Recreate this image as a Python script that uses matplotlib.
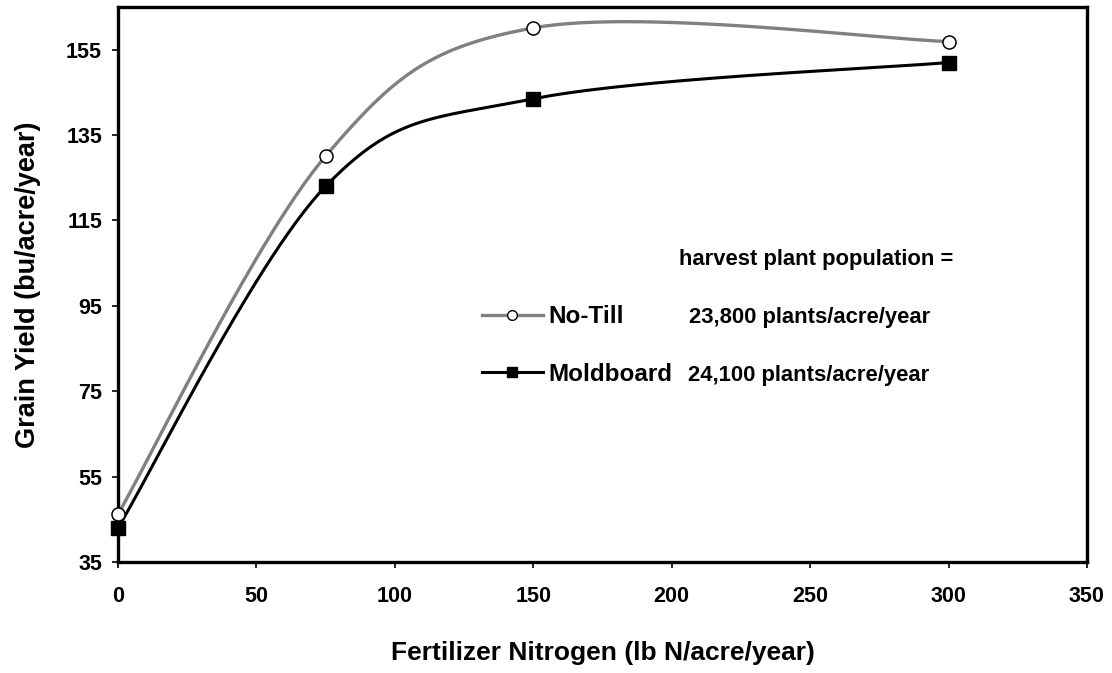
import numpy as np
import matplotlib
matplotlib.use("Agg")
import matplotlib.pyplot as plt

# datos
nitrogeno = [0, 75, 150, 300]
no_till = [46.2, 130.1, 160.1, 156.9]
moldboard = [43.0, 123.0, 143.5, 152.0]
x_ticks = [0, 50, 100, 150, 200, 250, 300, 350]
y_ticks = [35, 55, 75, 95, 115, 135, 155]

plt.rcParams['font.family'] = ['Liberation Sans', 'DejaVu Sans']
plt.rcParams['font.weight'] = 'bold'


# linea suavizada tipo Excel (Bezier con tangentes Catmull-Rom, factor 1/6)
def suavizar(x, y, n=60):
    p = np.column_stack([x, y]).astype(float)
    ext = np.vstack([p[0], p, p[-1]])
    pts = []
    for i in range(len(p) - 1):
        p0, p1 = ext[i + 1], ext[i + 2]
        c1 = p0 + (ext[i + 2] - ext[i]) / 6.0
        c2 = p1 - (ext[i + 3] - ext[i + 1]) / 6.0
        t = np.linspace(0, 1, n)[:, None]
        seg = ((1 - t) ** 3) * p0 + 3 * ((1 - t) ** 2) * t * c1 + 3 * (1 - t) * t ** 2 * c2 + t ** 3 * p1
        pts.append(seg if i == 0 else seg[1:])
    pts = np.vstack(pts)
    return pts[:, 0], pts[:, 1]


fig = plt.figure(figsize=(11.12, 6.73), dpi=100)
ax = fig.add_axes([0.1061, 0.1649, 0.8714, 0.8247])

xs, ys = suavizar(nitrogeno, no_till)
ax.plot(xs, ys, color='#808080', lw=2.4, zorder=2)
xs, ys = suavizar(nitrogeno, moldboard)
ax.plot(xs, ys, color='black', lw=2.2, zorder=2)

ax.plot(nitrogeno, no_till, ls='none', marker='o', ms=9.4, mfc='white',
        mec='black', mew=1.1, zorder=3, clip_on=False)
ax.plot(nitrogeno, moldboard, ls='none', marker='s', ms=9.6, mfc='black',
        mec='black', zorder=3, clip_on=False)

# leyenda manual (linea + marcador)
h1, = ax.plot([], [], color='#808080', lw=2.4, marker='o', ms=7, mfc='white',
              mec='black', mew=1.0)
h2, = ax.plot([], [], color='black', lw=2.2, marker='s', ms=7.5, mfc='black')
ax.legend([h1, h2], ['No-Till', 'Moldboard'], loc='center left',
          bbox_to_anchor=(0.3756, 0.390), frameon=False, fontsize=17.5,
          handlelength=2.5, handletextpad=0.25, borderpad=0, borderaxespad=0,
          labelspacing=1.42)

ax.text(0.7203, 0.5444, 'harvest plant population =', transform=ax.transAxes,
        fontsize=15.8, fontweight='bold', va='center', ha='center')
ax.text(0.7141, 0.4414, '23,800 plants/acre/year', transform=ax.transAxes,
        fontsize=15.8, fontweight='bold', va='center', ha='center')
ax.text(0.7130, 0.3369, '24,100 plants/acre/year', transform=ax.transAxes,
        fontsize=15.8, fontweight='bold', va='center', ha='center')

ax.set_xlim(0, 350)
ax.set_ylim(35, 165)
ax.set_xticks(x_ticks)
ax.set_yticks(y_ticks)
ax.tick_params(axis='both', direction='out', length=4.5, width=1.2,
               labelsize=15.5, top=False, right=False)
ax.tick_params(axis='x', pad=13)
ax.tick_params(axis='y', pad=7)
for s in ax.spines.values():
    s.set_linewidth(2.4)

ax.set_xlabel('Fertilizer Nitrogen (lb N/acre/year)', fontsize=19, fontweight='bold')
ax.set_ylabel('Grain Yield (bu/acre/year)', fontsize=19.5, fontweight='bold')
ax.xaxis.set_label_coords(0.5, -0.142)
ax.yaxis.set_label_coords(-0.079, 0.5)

plt.savefig('out.png', dpi=100)
